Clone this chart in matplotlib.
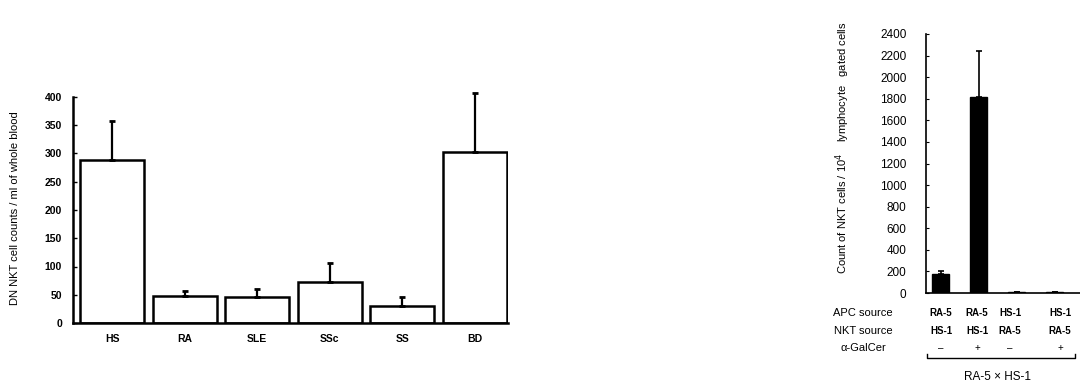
import matplotlib.pyplot as plt
from matplotlib.lines import Line2D

plt.rcParams['font.family'] = ['Liberation Sans', 'DejaVu Sans']

# panel izquierdo: recuento de NKT DN por grupo
grupos = ["HS", "RA", "SLE", "SSc", "SS", "BD"]
recuento = [288, 48, 46, 73, 30, 303]
error = [70, 8, 14, 33, 16, 104]

# panel derecho: co-cultivo RA-5 x HS-1
apc_source = ["RA-5", "RA-5", "HS-1", "HS-1"]
nkt_source = ["HS-1", "HS-1", "RA-5", "RA-5"]
galcer = ["\u2013", "+", "\u2013", "+"]
nkt_count = [180, 1820, 5, 5]
nkt_err = [25, 425, 0, 0]

W, H = 1080, 390
fig = plt.figure(figsize=(W / 100, H / 100), dpi=100)


def px(x, y):
    # convierte pixeles de la imagen a fracciones de la figura
    return x / W, 1 - y / H


# ---- panel izquierdo ----
ax1 = fig.add_axes([73 / W, 67 / H, 435 / W, 226 / H])
pos = list(range(len(grupos)))
ax1.bar(pos, recuento, width=0.88, color="white", edgecolor="black", linewidth=1.8,
        yerr=[[0] * len(error), error], capsize=2.5,
        error_kw={"elinewidth": 1.6, "capthick": 2.0, "ecolor": "black"})
# la barra de error de BD sobresale del eje
for art in ax1.lines + ax1.collections:
    art.set_clip_on(False)
ax1.set_xlim(-0.54, 5.46)
ax1.set_ylim(0, 400)
ax1.set_yticks(range(0, 401, 50))
ax1.set_xticks(pos)
ax1.set_xticklabels(grupos, fontweight="bold")
ax1.tick_params(axis="y", direction="in", length=3, width=1, labelsize=7.5, pad=8)
ax1.tick_params(axis="x", length=0, labelsize=7.5, pad=8)
for lab in ax1.get_yticklabels():
    lab.set_fontweight("bold")
for s in ["top", "right"]:
    ax1.spines[s].set_visible(False)
for s in ["left", "bottom"]:
    ax1.spines[s].set_linewidth(1.8)
x, y = px(15, 208)
fig.text(x, y, "DN NKT cell counts / ml of whole blood", rotation=90,
         ha="center", va="center", fontsize=8)

# ---- panel derecho ----
ax2 = fig.add_axes([926 / W, 97 / H, 154 / W, 259 / H])
pos2 = list(range(len(nkt_count)))
ax2.bar(pos2, nkt_count, width=0.45, color="black", edgecolor="black",
        yerr=[[0] * len(nkt_err), nkt_err], capsize=2,
        error_kw={"elinewidth": 1.2, "capthick": 1.2, "ecolor": "black"})
ax2.set_xlim(-0.39, 3.66)
ax2.set_ylim(0, 2400)
ax2.set_yticks(range(0, 2401, 200))
ax2.set_xticks([])
ax2.tick_params(axis="y", direction="in", length=2, width=0.8, labelsize=8.5, pad=14)
for s in ["top", "right"]:
    ax2.spines[s].set_visible(False)
ax2.spines["left"].set_linewidth(1.2)
ax2.spines["bottom"].set_linewidth(1.2)
x, y = px(843, 148)
fig.text(x, y, "Count of NKT cells / 10$^4$    lymphocyte   gated cells", rotation=90,
         ha="center", va="center", fontsize=8)

# tabla de condiciones bajo el panel derecho
col_x = [941, 977, 1010, 1060]
filas = [("APC source", apc_source, 313), ("NKT source", nkt_source, 331),
         ("\u03b1-GalCer", galcer, 348)]
for nombre, valores, yy in filas:
    x, y = px(863, yy)
    fig.text(x, y, nombre, ha="center", va="center", fontsize=8)
    for cx, v in zip(col_x, valores):
        x, y = px(cx, yy)
        fig.text(x, y, v, ha="center", va="center", fontsize=7,
                 fontweight="bold" if nombre != "\u03b1-GalCer" else "normal")

# corchete y etiqueta del cruce
x0, y0 = px(927, 358)
x1, _ = px(1075, 358)
_, yt = px(0, 354)
fig.add_artist(Line2D([x0, x0, x1, x1], [yt, y0, y0, yt], color="black", lw=1.0))
x, y = px(998, 377)
fig.text(x, y, "RA-5 \u00d7 HS-1", ha="center", va="center", fontsize=8.5)

fig.savefig("out.png", dpi=100)
